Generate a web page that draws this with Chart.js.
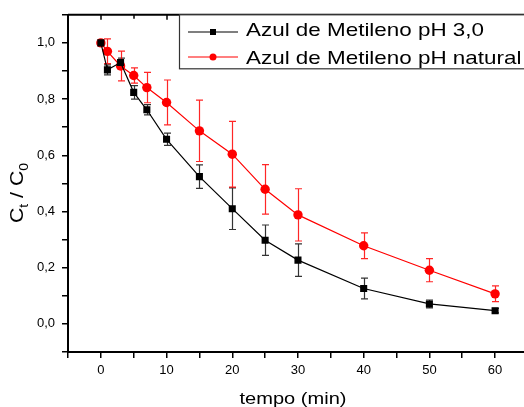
<!DOCTYPE html>
<html>
<head>
<meta charset="utf-8">
<script src="https://cdn.jsdelivr.net/npm/chart.js@4/dist/chart.umd.min.js"></script>
<style>
  body { margin: 0; background: #fff; }
  canvas { display: block; }
</style>
</head>
<body>
<canvas id="decay" width="524" height="407"></canvas>
<script>
// tempo (min)
const times = [0, 1, 3, 5, 7, 10, 15, 20, 25, 30, 40, 50, 60];
// Ct/C0 — pH 3,0
const ph3 = [1.0, 0.904, 0.93, 0.824, 0.762, 0.657, 0.524, 0.41, 0.298, 0.227, 0.126, 0.071, 0.047];
const ph3Err = [0, 0.018, 0.016, 0.024, 0.018, 0.022, 0.042, 0.074, 0.054, 0.058, 0.037, 0.014, 0.008];
// Ct/C0 — pH natural
const natural = [1.0, 0.97, 0.918, 0.884, 0.841, 0.788, 0.687, 0.604, 0.479, 0.388, 0.278, 0.191, 0.107];
const naturalErr = [0, 0.044, 0.053, 0.027, 0.054, 0.08, 0.109, 0.117, 0.088, 0.093, 0.046, 0.041, 0.028];

const seriesNames = ['Azul de Metileno pH 3,0', 'Azul de Metileno pH natural'];
const xTicks = [-5, 0, 5, 10, 15, 20, 25, 30, 35, 40, 45, 50, 55, 60];
const xLabels = [0, 10, 20, 30, 40, 50, 60];
const yTicks = [-0.1, 0, 0.1, 0.2, 0.3, 0.4, 0.5, 0.6, 0.7, 0.8, 0.9, 1.0, 1.1];
const yLabels = [0, 0.2, 0.4, 0.6, 0.8, 1.0];

const FONT = '"Liberation Sans", Arial, sans-serif';
const WIDE = 1.18; // titles and legend use a slightly expanded face

function toPoints(ys) {
	return times.map((t, i) => ({ x: t, y: ys[i] }));
}

function hasLabel(list, v) {
	return list.some(l => Math.abs(l - v) < 1e-6);
}

function wideText(ctx, text, x, y) {
	ctx.save();
	ctx.translate(x, y);
	ctx.scale(WIDE, 1);
	ctx.fillText(text, 0, 0);
	ctx.restore();
}

// vertical error bars with caps, drawn under the markers
const errorBarPlugin = {
	id: 'errorBars',
	beforeDatasetsDraw(chart) {
		const { ctx, scales: { x, y } } = chart;
		chart.data.datasets.forEach(ds => {
			ctx.save();
			ctx.strokeStyle = ds.errorColor;
			ctx.lineWidth = 1.2;
			ds.data.forEach((p, j) => {
				const e = ds.errors[j];
				if (!e) return;
				const px = Math.round(x.getPixelForValue(p.x)) + 0.5;
				const top = y.getPixelForValue(p.y + e);
				const bot = y.getPixelForValue(p.y - e);
				ctx.beginPath();
				ctx.moveTo(px, top);
				ctx.lineTo(px, bot);
				ctx.moveTo(px - 3.5, top);
				ctx.lineTo(px + 3.5, top);
				ctx.moveTo(px - 3.5, bot);
				ctx.lineTo(px + 3.5, bot);
				ctx.stroke();
			});
			ctx.restore();
		});
	}
};

// top frame, axis titles and the boxed legend
const framePlugin = {
	id: 'frame',
	afterDraw(chart) {
		const { ctx, chartArea: { left, right, top }, scales: { x } } = chart;
		ctx.save();

		// top frame line with inward ticks
		ctx.strokeStyle = '#000';
		ctx.lineWidth = 2;
		ctx.beginPath();
		ctx.moveTo(left, top);
		ctx.lineTo(right, top);
		ctx.stroke();
		ctx.lineWidth = 1.5;
		xTicks.forEach(v => {
			const px = Math.round(x.getPixelForValue(v));
			ctx.beginPath();
			ctx.moveTo(px, top);
			ctx.lineTo(px, top + (hasLabel(xLabels, v) ? 5 : 4));
			ctx.stroke();
		});

		// x title
		ctx.fillStyle = '#000';
		ctx.font = '17px ' + FONT;
		ctx.textAlign = 'center';
		ctx.textBaseline = 'alphabetic';
		wideText(ctx, 'tempo (min)', 293, 404);

		// y title: C_t / C_0
		ctx.save();
		ctx.translate(23, 193);
		ctx.rotate(-Math.PI / 2);
		ctx.scale(WIDE, 1);
		const big = '18px ' + FONT, small = '12px ' + FONT;
		const parts = [['C', big, 0], ['t', small, 5], [' / C', big, 0], ['0', small, 5]];
		let w = 0;
		parts.forEach(([t, f]) => { ctx.font = f; w += ctx.measureText(t).width; });
		let cx = -w / 2;
		ctx.textAlign = 'left';
		parts.forEach(([t, f, dy]) => {
			ctx.font = f;
			ctx.fillText(t, cx, dy);
			cx += ctx.measureText(t).width;
		});
		ctx.restore();

		// legend box
		ctx.fillStyle = '#fff';
		ctx.fillRect(179, top, 360, 54);
		ctx.strokeStyle = '#333';
		ctx.lineWidth = 1.2;
		ctx.strokeRect(179.5, top, 360, 54);

		chart.data.datasets.forEach((ds, i) => {
			const ly = 32 + i * 25;
			ctx.strokeStyle = ds.borderColor;
			ctx.lineWidth = 1.2;
			ctx.beginPath();
			ctx.moveTo(188, ly);
			ctx.lineTo(238, ly);
			ctx.stroke();
			ctx.fillStyle = ds.pointBackgroundColor;
			ctx.beginPath();
			if (ds.pointStyle === 'rect') {
				ctx.rect(210, ly - 3, 6, 6);
			} else {
				ctx.arc(213, ly, 3.5, 0, Math.PI * 2);
			}
			ctx.fill();
			ctx.fillStyle = '#000';
			ctx.font = '19px ' + FONT;
			ctx.textAlign = 'left';
			ctx.textBaseline = 'alphabetic';
			wideText(ctx, ds.label, 246, 36 + i * 27.5);
		});

		ctx.restore();
	}
};

const ctx = document.getElementById('decay').getContext('2d');
new Chart(ctx, {
	type: 'line',
	data: {
		datasets: [
			{
				label: seriesNames[0],
				data: toPoints(ph3),
				errors: ph3Err,
				errorColor: 'rgba(0, 0, 0, 0.8)',
				borderColor: '#000',
				borderWidth: 1.2,
				pointStyle: 'rect',
				pointRadius: 5,
				pointBackgroundColor: '#000',
				pointBorderWidth: 0,
				tension: 0,
				fill: false
			},
			{
				label: seriesNames[1],
				data: toPoints(natural),
				errors: naturalErr,
				errorColor: 'rgba(255, 0, 0, 0.85)',
				borderColor: '#ff0000',
				borderWidth: 1.2,
				pointStyle: 'circle',
				pointRadius: 4.7,
				pointBackgroundColor: '#ff0000',
				pointBorderWidth: 0,
				tension: 0,
				fill: false
			}
		]
	},
	options: {
		responsive: false,
		animation: false,
		layout: { autoPadding: false, padding: { top: 14, right: 0, left: 0, bottom: 0 } },
		plugins: {
			legend: { display: false },
			tooltip: { enabled: false }
		},
		scales: {
			x: {
				type: 'linear',
				min: -5,
				max: 64.4,
				afterBuildTicks: s => { s.ticks = xTicks.map(v => ({ value: v })); },
				afterFit: s => { s.height = 55; },
				border: { display: true, color: '#000', width: 2 },
				grid: { drawOnChartArea: false, tickLength: 6, color: '#000', lineWidth: 1.5 },
				ticks: {
					color: '#000',
					padding: 5,
					maxRotation: 0,
					autoSkip: false,
					font: { family: FONT, size: 13 },
					callback: v => hasLabel(xLabels, v) ? String(v) : ''
				}
			},
			y: {
				type: 'linear',
				min: -0.1,
				max: 1.1,
				afterBuildTicks: s => { s.ticks = yTicks.map(v => ({ value: v })); },
				afterFit: s => { s.width = 68; },
				border: { display: true, color: '#000', width: 2 },
				grid: { drawOnChartArea: false, tickLength: 6, color: '#000', lineWidth: 1.5 },
				ticks: {
					color: '#000',
					padding: 7,
					autoSkip: false,
					font: { family: FONT, size: 13 },
					callback: v => hasLabel(yLabels, v) ? v.toFixed(1).replace('.', ',') : ''
				}
			}
		}
	},
	plugins: [errorBarPlugin, framePlugin]
});
</script>
</body>
</html>
